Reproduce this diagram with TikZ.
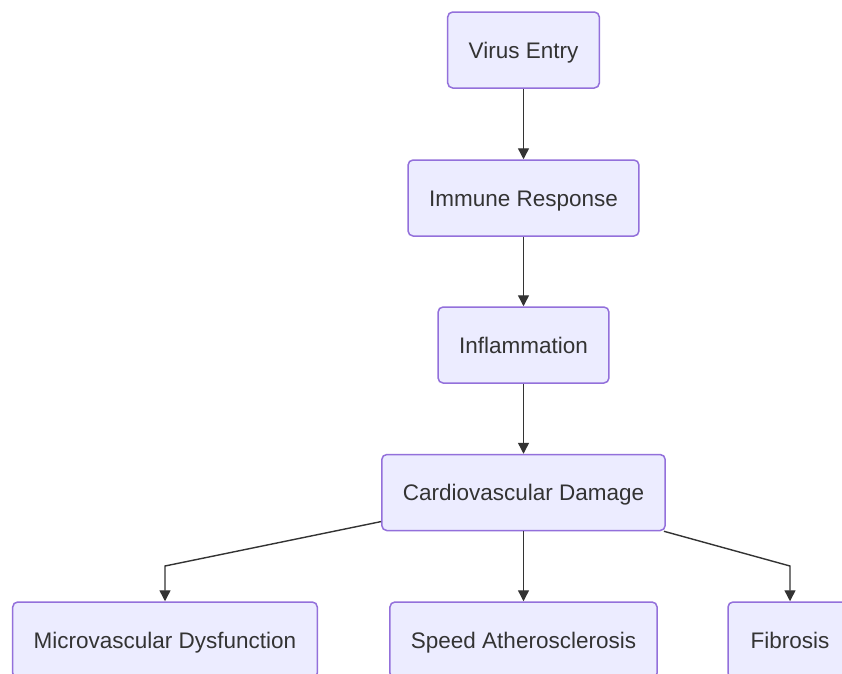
\documentclass[tikz,border=0pt]{standalone}
\usepackage{fontspec}
\setmainfont{Liberation Sans}
\usepackage{xcolor}
\usetikzlibrary{arrows.meta}
\definecolor{boxfill}{HTML}{ECECFF}
\definecolor{boxline}{HTML}{9370DB}
\definecolor{textgray}{HTML}{333333}

\begin{document}
\begin{tikzpicture}[x=1pt, y=-1pt,
    box/.style={draw=boxline, fill=boxfill, line width=1.5pt, rounded corners=5pt,
      text=textgray, font=\fontsize{22.5}{27}\selectfont, inner xsep=21pt,
      text height=16.1pt, text depth=0pt, minimum height=76pt},
    link/.style={draw=textgray, line width=1.4pt, -{Triangle[length=11pt, width=11pt]}}]
      \clip (0, 0) rectangle (842, 673);
      \fill[white] (0, 0) rectangle (842, 673);

      \coordinate (bendL) at (165, 566);
      \coordinate (bendR) at (790, 566);

      \node[box] (entry) at (523.5, 50) {Virus Entry};
      \node[box] (immune) at (523.5, 198) {Immune Response};
      \node[box] (inflam) at (523.5, 345) {Inflammation};
      \node[box] (damage) at (523.5, 492.5) {Cardiovascular Damage};

      \node[box] (micro) at (165, 640) {Microvascular Dysfunction};
      \node[box] (athero) at (523.5, 640) {Speed Atherosclerosis};
      \node[box, minimum width=124pt] (fibro) at (790, 640) {Fibrosis};

      \draw[link] (entry) -- (immune);
      \draw[link] (immune) -- (inflam);
      \draw[link] (inflam) -- (damage);

      \draw[link] (damage) -- (bendL) -- (micro);
      \draw[link] (damage) -- (athero);
      \draw[link] (damage) -- (bendR) -- (fibro);
    \end{tikzpicture}
\end{document}
